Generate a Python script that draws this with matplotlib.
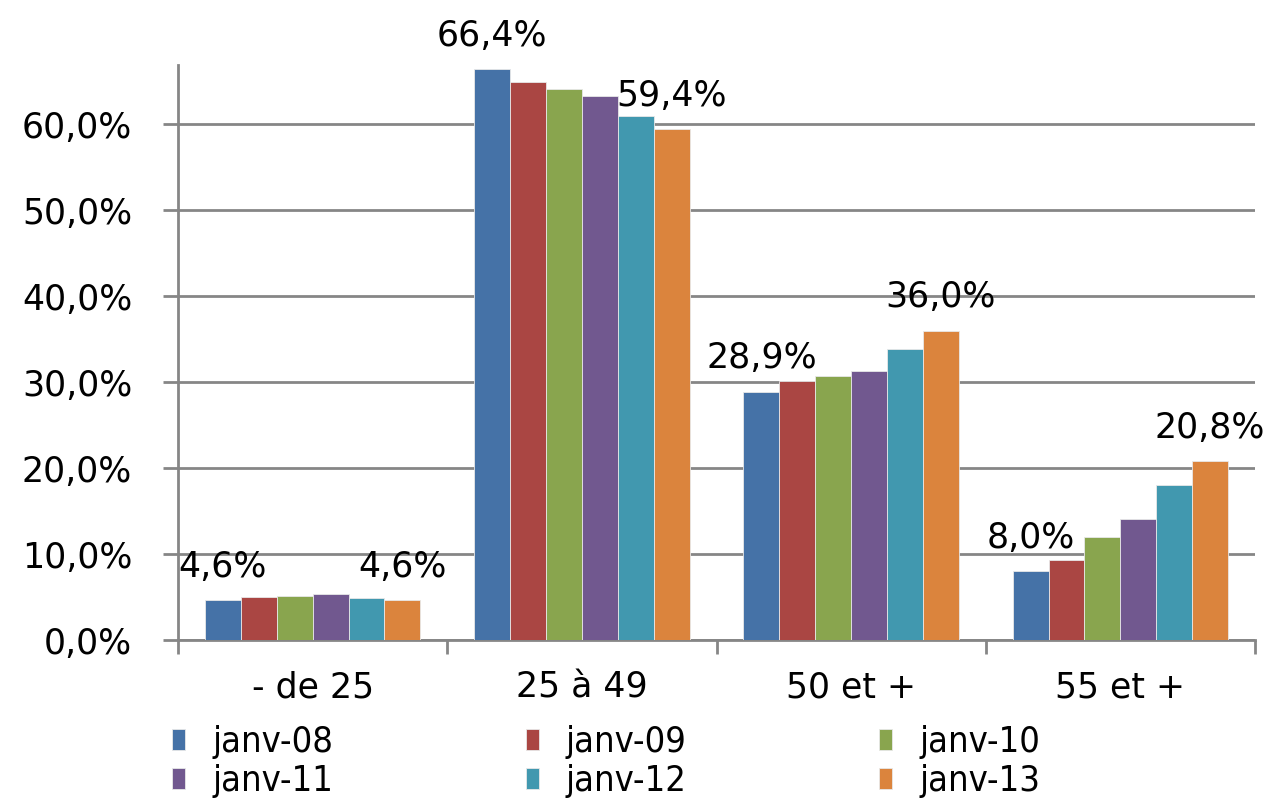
import matplotlib
matplotlib.use("Agg")
import matplotlib.pyplot as plt
import numpy as np
from matplotlib.ticker import FuncFormatter, FixedLocator

categories = ["- de 25", "25 à 49", "50 et +", "55 et +"]
series_names = ["janv-08", "janv-09", "janv-10", "janv-11", "janv-12", "janv-13"]
janv08 = [4.6, 66.4, 28.9, 8.0]
janv09 = [5.0, 64.9, 30.1, 9.3]
janv10 = [5.1, 64.1, 30.7, 12.0]
janv11 = [5.3, 63.3, 31.3, 14.1]
janv12 = [4.9, 61.0, 33.9, 18.0]
janv13 = [4.6, 59.4, 36.0, 20.8]
series = [janv08, janv09, janv10, janv11, janv12, janv13]
colors = ["#4572A7", "#AA4643", "#89A54E", "#71588F", "#4198AF", "#DB843D"]

fig = plt.figure(figsize=(12.64, 7.98), dpi=100)
ax = fig.add_axes([178/1264, 1-640/798, (1255-178)/1264, (640-65)/798])

fs = 25
n = len(series)
bw = 0.1333
x = np.arange(len(categories))
handles = []
for i, (vals, c, name) in enumerate(zip(series, colors, series_names)):
    pos = x + (i - (n-1)/2) * bw
    h = ax.bar(pos, vals, width=bw, color=c, edgecolor="#e8e8e8", linewidth=0.6, label=name, zorder=3)
    handles.append(h)
    if i == 0 or i == n-1:
        for p, v in zip(pos, vals):
            ax.annotate(f"{v:.1f}%".replace(".", ","), (p, v), xytext=(0, 17),
                        textcoords="offset points", ha="center", va="baseline",
                        fontsize=fs, zorder=5)

ax.set_xlim(-0.5, len(categories) - 0.5)
ax.set_ylim(0, 66.9)
ax.set_yticks(np.arange(0, 61, 10))
ax.yaxis.set_major_formatter(FuncFormatter(lambda v, p: f"{v:.1f}%".replace(".", ",")))
ax.yaxis.grid(True, color="#868686", linewidth=2, zorder=0)
ax.set_axisbelow(True)

ax.xaxis.set_major_locator(FixedLocator(np.arange(-0.5, len(categories), 1.0)))
ax.xaxis.set_major_formatter(FuncFormatter(lambda v, p: ""))
ax.xaxis.set_minor_locator(FixedLocator(x))
ax.set_xticklabels(categories, minor=True)
ax.tick_params(axis="x", which="major", length=10, width=2, color="#868686", direction="out")
ax.tick_params(axis="x", which="minor", length=0, labelsize=fs, pad=22)
ax.tick_params(axis="y", length=11, width=2, color="#868686", labelsize=fs, pad=22)

for s in ["top", "right"]:
    ax.spines[s].set_visible(False)
for s in ["left", "bottom"]:
    ax.spines[s].set_color("#868686")
    ax.spines[s].set_linewidth(2)

order = [0, 3, 1, 4, 2, 5]
leg = fig.legend([handles[k] for k in order], [series_names[k] for k in order],
                 loc="upper left", bbox_to_anchor=(165/1264, 1-718/798), ncol=3,
                 frameon=False, handlelength=0.36, handleheight=0.55,
                 handletextpad=0.75, columnspacing=5.33, labelspacing=0.14,
                 borderaxespad=0, borderpad=0.2,
                 prop={"family": "DejaVu Sans", "stretch": "condensed", "size": 26})

fig.savefig("out.png", dpi=100)
